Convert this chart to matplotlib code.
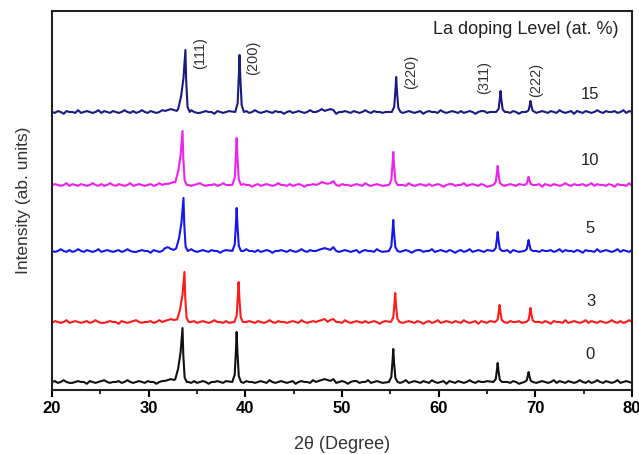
import numpy as np
import matplotlib
matplotlib.use("Agg")
import matplotlib.pyplot as plt

plt.rcParams['font.family'] = ['Liberation Sans', 'DejaVu Sans']

# ---------------- data (y in arbitrary units) ----------------
levels = ["0", "3", "5", "10", "15"]
colors = ["#111111", "#ff1a1a", "#1515f0", "#f020f0", "#1a1a82"]
baselines = [8, 68, 139, 205, 278]

hkl = ["(111)", "(200)", "(220)", "(311)", "(222)"]
pos_0 = [33.5, 39.1, 55.3, 66.1, 69.3]
pos_3 = [33.7, 39.3, 55.5, 66.3, 69.5]
pos_5 = [33.6, 39.1, 55.3, 66.1, 69.3]
pos_10 = [33.5, 39.1, 55.3, 66.1, 69.3]
pos_15 = [33.8, 39.4, 55.6, 66.4, 69.5]
h_0 = [54, 50, 33, 19, 10]
h_3 = [50, 40, 29, 17, 14]
h_5 = [53, 43, 31, 19, 11]
h_10 = [54, 47, 33, 19, 8]
h_15 = [62, 57, 35, 21, 11]
positions = [pos_0, pos_3, pos_5, pos_10, pos_15]
heights = [h_0, h_3, h_5, h_10, h_15]

# broad humps in background (position, height)
hump_pos = [32.5, 48.4]
hump_h = [2.0, 2.0]

# background wiggle, 0.3 deg steps from 20 to 80 (201 values)
bg_x = np.linspace(20, 80, 201)
bg_noise = [0, 1, -1, 0, 2, 0, -1, -1, 0, 1, 0, 0, -2, 1, 0, -1, 0, 1, 2, 0,
            -1, 0, 0, 1, -1, 0, 2, 0, -1, 0, 1, 0, -1, 1, 0, 0, -2, 0, 1, -1,
            0, 1, 0, -1, 0, 2, 0, 0, -1, 1, -1, 0, 1, 0, -2, 0, 0, 1, 0, -1,
            1, 0, -1, 0, 2, 0, -1, 1, 0, 0, -1, 0, 1, 0, -1, 2, 0, -1, 0, 1,
            0, -1, 0, 1, -2, 0, 1, 0, 0, -1, 2, 0, -1, 0, 1, 0, -1, 1, -1, 0,
            1, 0, -2, 0, 1, 1, -1, 0, 0, 2, -1, 0, 1, 0, -1, 1, 0, -2, 0, 1,
            -1, 0, 2, -1, 0, 1, 0, -1, 1, 0, -1, 2, 0, -1, 0, 1, -2, 1, 0, -1,
            1, 0, -1, 0, 2, 0, -1, 1, 0, 0, 1, -1, 0, 2, -1, 1, 0, 0, -1, 1,
            0, -2, 1, 0, 0, -1, 2, -1, 0, 1, 0, -1, 0, 2, -1, 1, 0, -1, 1, 0,
            -1, 0, 2, 0, -1, 1, -1, 0, 2, 0, -1, 1, 0, -1, 0, 2, -1, 0, 1, 0,
            -1]

# peak profile vertices (offset in deg, fraction of height)
peak_dx = [-0.45, -0.2, -0.06, 0.0, 0.08, 0.22, 0.45]
peak_fr = [0.0, 0.15, 0.7, 1.0, 0.6, 0.12, 0.0]
# (111) has a low-angle shoulder
p111_dx = [-0.75, -0.45, -0.2, -0.06, 0.0, 0.08, 0.22, 0.45]
p111_fr = [0.05, 0.25, 0.55, 0.85, 1.0, 0.5, 0.08, 0.0]

# ---------------- figure ----------------
fig = plt.figure(figsize=(6.39, 4.54), dpi=100)
ax = fig.add_axes([0.0814, 0.141, 0.9077, 0.8348])

for k in range(len(levels)):
    b = baselines[k]
    noise = np.roll(np.array(bg_noise[:len(bg_x)], dtype=float), 11 * k) * 0.9
    xs = []
    ys = []
    for xv, nv in zip(bg_x, noise):
        if any(p - 0.85 < xv < p + 0.6 for p in positions[k]):
            continue
        yv = b + nv
        for hp, hh in zip(hump_pos, hump_h):
            if abs(xv - hp) < 1.0:
                yv += hh
        xs.append(xv)
        ys.append(yv)
    for j, (p, h) in enumerate(zip(positions[k], heights[k])):
        dxs, frs = (p111_dx, p111_fr) if j == 0 else (peak_dx, peak_fr)
        xs += [p + d for d in dxs]
        ys += [b + f * h for f in frs]
    order = np.argsort(xs)
    ax.plot(np.array(xs)[order], np.array(ys)[order], color=colors[k], lw=1.5)

# series labels
lab_y = [35, 88, 161, 229, 295]
for k, t in enumerate(levels):
    ax.text(75.7, lab_y[k], t, ha='center', va='center', fontsize=12, color='#222222')

# hkl labels
hkl_x = [35.3, 40.8, 57.1, 64.7, 70.1]
hkl_y = [337, 332, 318, 312, 310]
for t, xv, yv in zip(hkl, hkl_x, hkl_y):
    ax.text(xv, yv, t, rotation=90, ha='center', va='center', fontsize=10.5, color='#333333')

ax.text(78.6, 360, "La doping Level (at. %)", ha='right', va='center', fontsize=13, color='#222222')

ax.set_xlim(20, 80)
ax.set_ylim(0, 379)
ax.set_yticks([])
ax.set_xticks([20, 30, 40, 50, 60, 70, 80])
ax.set_xticks(np.arange(25, 80, 10), minor=True)
for lab in ax.get_xticklabels():
    lab.set_fontweight('bold')
ax.tick_params(axis='x', which='major', direction='out', length=5, width=1.5, labelsize=12, pad=3)
ax.tick_params(axis='x', which='minor', direction='out', length=3, width=1.2)
for s in ax.spines.values():
    s.set_linewidth(1.5)
    s.set_color('#222222')

ax.set_xlabel("2θ (Degree)", fontsize=13, color='#333333', labelpad=14)
ax.set_ylabel("Intensity (ab. units)", fontsize=12.5, color='#333333', labelpad=15)

fig.savefig("out.png", dpi=100)
